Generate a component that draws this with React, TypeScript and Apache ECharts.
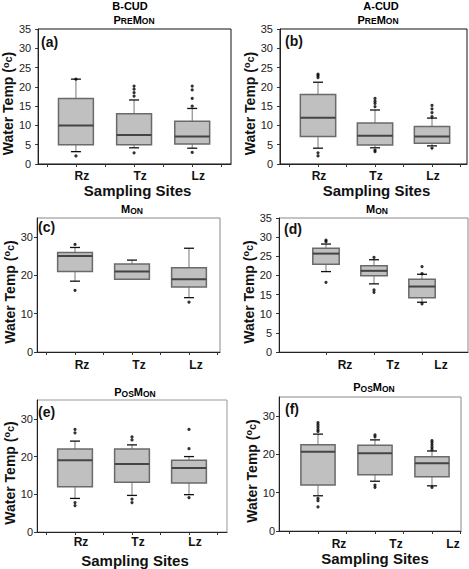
import React, { useEffect, useRef } from "react";
import * as echarts from "echarts";

const sites = ["Rz", "Tz", "Lz"];

// box statistics per site: [lower whisker, Q1, median, Q3, upper whisker]
const boxA = [[3.2, 5, 10, 17, 22], [4.2, 5, 7.5, 13, 16.6], [4.1, 5.2, 7.1, 11.1, 14.4]];
const outA = [[0, 22], [0, 2.1], [1, 20.2], [1, 19.4], [1, 18.5], [1, 17.6], [1, 2.9], [2, 20.2], [2, 19.2], [2, 17.0], [2, 15.0], [2, 3.0]];
const boxB = [[4.1, 7.1, 12, 18, 21.2], [4.2, 4.9, 7.3, 10.6, 14], [4.7, 5.4, 7.1, 9.7, 11.9]];
const outB = [[0, 23.3], [0, 22.9], [0, 22.4], [0, 2.9], [0, 2.1], [1, 17.0], [1, 16.3], [1, 15.7], [1, 14.9], [1, 3.6], [1, 3.2], [2, 15.2], [2, 14.3], [2, 13.3], [2, 12.3], [2, 4.1]];
const boxC = [[18.5, 21, 25.1, 26, 27.3], [19, 19, 21, 23, 24], [14.2, 17, 19, 22, 27.1]];
const outC = [[0, 28.1], [0, 16.1], [2, 13.0]];
const boxD = [[21, 22.9, 25.7, 27.1, 28.2], [17.8, 19.9, 21.2, 22.5, 24.1], [13, 14.2, 17.1, 19, 20.3]];
const outD = [[0, 29.2], [0, 28.8], [0, 18.2], [1, 24.7], [1, 16.2], [1, 15.6], [2, 22.3], [2, 20.5], [2, 12.6]];
const boxE = [[8.9, 12, 19, 22, 24.1], [9.7, 13.2, 18, 22, 23.1], [9.9, 13, 17, 19, 20]];
const outE = [[0, 27.2], [0, 26.3], [0, 7.8], [0, 7.0], [1, 25.2], [1, 24.4], [1, 8.7], [1, 7.8], [2, 27.2], [2, 22.1], [2, 9.1]];
const boxF = [[9.2, 12, 20.7, 22.5, 25.3], [13, 14.7, 20.3, 22.4, 23.8], [11.8, 14.2, 17.7, 19.4, 20.9]];
const outF = [[0, 28.3], [0, 27.7], [0, 27.1], [0, 26.5], [0, 26], [0, 8.5], [0, 7.9], [0, 6.3], [1, 25.1], [1, 24.6], [1, 12], [1, 11.4], [2, 23.6], [2, 23.1], [2, 22.5], [2, 21.9], [2, 21.3], [2, 11.4]];

const yTicks5 = [0, 5, 10, 15, 20, 25, 30, 35];
const yTicks10 = [0, 10, 20, 30];
const xTicksFull = [0.5, 1, 1.5, 2, 2.5, 3, 3.5];
const xTicksCenter = [1, 2, 3];
const sitePos = [1, 2, 3];

const FONT = "Liberation Sans, Arial, Helvetica, sans-serif";

const panels = [
  { box: boxA, out: outA, L: 37, R: 231, T: 29, B: 164, xmin: 0.35, xmax: 3.667, xt: xTicksFull, off: 6, yt: yTicks5, ym: 7, frame: "#111", bw: 0.6, xName: true, xGap: 17, xPad: 6, lm: 6, letter: "(a)", lx: 41, ly: 42 },
  { box: boxB, out: outB, L: 280, R: 467, T: 29, B: 164, xmin: 0.333, xmax: 3.614, xt: xTicksFull, off: 1, yt: yTicks5, ym: 7, frame: "#111", bw: 0.62, xName: true, xGap: 17, xPad: 6, lm: 6, letter: "(b)", lx: 285, ly: 41 },
  { box: boxC, out: outC, L: 37, R: 220, T: 218, B: 352, xmin: 0.333, xmax: 3.544, xt: xTicksFull, off: 7, yt: yTicks10, ym: 4, frame: "#888", bw: 0.61, xName: false, xGap: 17, xPad: 0, lm: 7, letter: "(c)", lx: 38, ly: 227 },
  { box: boxD, out: outD, L: 279, R: 468, T: 218, B: 352, xmin: 0.021, xmax: 3.958, xt: xTicksCenter, off: 19, yt: yTicks5, ym: 7, frame: "#888", bw: 0.55, xName: false, xGap: 17, xPad: 0, lm: 7, letter: "(d)", lx: 284, ly: 229 },
  { box: boxE, out: outE, L: 37, R: 227, T: 400, B: 534, xmin: 0.333, xmax: 3.667, xt: xTicksFull, off: 6, yt: yTicks10, ym: 4, frame: "#999", bw: 0.61, xName: true, xGap: 21, xPad: 6, lm: 4, letter: "(e)", lx: 38, ly: 412 },
  { box: boxF, out: outF, L: 279, R: 461, T: 397, B: 531, xmin: 0.316, xmax: 3.509, xt: xTicksFull, off: 21, yt: yTicks10, ym: 4, frame: "#888", bw: 0.6, xName: true, xGap: 18, xPad: 10, lm: 7, letter: "(f)", lx: 285, ly: 409 },
];

const titles = [
  { text: "{b|B-CUD}", x: 130, y: 6 },
  { text: "{B|P}{S|RE}{B|M}{S|ON}", x: 134, y: 19.5 },
  { text: "{b|A-CUD}", x: 381, y: 6 },
  { text: "{B|P}{S|RE}{B|M}{S|ON}", x: 378, y: 19.5 },
  { text: "{B|M}{S|ON}", x: 132, y: 209 },
  { text: "{B|M}{S|ON}", x: 377, y: 209 },
  { text: "{B|P}{S|OS}{B|M}{S|ON}", x: 135, y: 392 },
  { text: "{B|P}{S|OS}{B|M}{S|ON}", x: 374, y: 387 },
];

const titleRich = {
  b: { fontSize: 11, fontWeight: "bold", fontFamily: FONT, fill: "#000", color: "#000", lineHeight: 12 },
  B: { fontSize: 11, fontWeight: "bold", fontFamily: FONT, fill: "#000", color: "#000", lineHeight: 12 },
  S: { fontSize: 8.5, fontWeight: "bold", fontFamily: FONT, fill: "#000", color: "#000", lineHeight: 8, verticalAlign: "bottom" },
};

function buildOption() {
  const grid: any[] = [];
  const xAxis: any[] = [];
  const yAxis: any[] = [];
  const series: any[] = [];
  const graphic: any[] = [];

  panels.forEach((p, i) => {
    grid.push({
      left: p.L, top: p.T, width: p.R - p.L, height: p.B - p.T,
      show: true, borderColor: p.frame, borderWidth: 1, backgroundColor: "transparent",
    });
    xAxis.push({
      type: "value", gridIndex: i, min: p.xmin, max: p.xmax,
      axisLine: { show: true, onZero: false, lineStyle: { color: "#222", width: 1 } },
      axisTick: { show: true, customValues: p.xt, length: 3, lineStyle: { color: "#333" } },
      axisLabel: {
        customValues: sitePos, margin: p.lm, fontSize: 12, fontWeight: "bold", color: "#111", fontFamily: FONT,
        padding: [0, 0, 0, p.off * 2],
        formatter: (v: number) => sites[Math.round(v) - 1] || "",
      },
      splitLine: { show: false },
      name: p.xName ? "Sampling Sites" : "",
      nameLocation: "middle", nameGap: p.xGap,
      nameTextStyle: { fontSize: 15, fontWeight: "bold", color: "#111", fontFamily: FONT, padding: [0, 0, 0, p.xPad] },
    });
    yAxis.push({
      type: "value", gridIndex: i, min: 0, max: 35,
      axisLine: { show: true, lineStyle: { color: "#222", width: 1 } },
      axisTick: { show: true, customValues: p.yt, length: 3, lineStyle: { color: "#333" } },
      axisLabel: { customValues: p.yt, margin: p.ym, fontSize: 11, color: "#222", fontFamily: FONT },
      splitLine: { show: false },
      name: "Water Temp ({o|o}{c|c})",
      nameLocation: "middle", nameGap: 20,
      nameTextStyle: {
        fontSize: 14, fontWeight: "bold", color: "#111", fontFamily: FONT, padding: [0, 14, 0, 0],
        rich: {
          o: { fontSize: 9, fontWeight: "bold", color: "#111", fontFamily: FONT, verticalAlign: "top" },
          c: { fontSize: 11, fontWeight: "bold", color: "#111", fontFamily: FONT },
        },
      },
    });
    const bw = p.bw;
    series.push({
      type: "custom", xAxisIndex: i, yAxisIndex: i,
      encode: { x: 0, y: [1, 2, 3, 4, 5] },
      data: p.box.map((b, k) => [sitePos[k], ...b]),
      renderItem: (params: any, api: any) => {
        const x = api.value(0);
        const lo = api.coord([x, api.value(1)]);
        const q1 = api.coord([x, api.value(2)]);
        const md = api.coord([x, api.value(3)]);
        const q3 = api.coord([x, api.value(4)]);
        const hi = api.coord([x, api.value(5)]);
        const half = api.size([bw, 0])[0] / 2;
        const cap = 5;
        const cx = md[0];
        return {
          type: "group",
          children: [
            { type: "line", shape: { x1: cx, y1: lo[1], x2: cx, y2: q1[1] }, style: { stroke: "#777", lineWidth: 1 } },
            { type: "line", shape: { x1: cx, y1: q3[1], x2: cx, y2: hi[1] }, style: { stroke: "#777", lineWidth: 1 } },
            { type: "line", shape: { x1: cx - cap, y1: lo[1], x2: cx + cap, y2: lo[1] }, style: { stroke: "#111", lineWidth: 1.3 } },
            { type: "line", shape: { x1: cx - cap, y1: hi[1], x2: cx + cap, y2: hi[1] }, style: { stroke: "#111", lineWidth: 1.3 } },
            { type: "rect", shape: { x: cx - half, y: q3[1], width: half * 2, height: q1[1] - q3[1] }, style: { fill: "#c0c0c0", stroke: "#6a6a6a", lineWidth: 1.5 } },
            { type: "line", shape: { x1: cx - half, y1: md[1], x2: cx + half, y2: md[1] }, style: { stroke: "#444", lineWidth: 2 } },
          ],
        };
      },
      z: 2,
    });
    series.push({
      type: "scatter", xAxisIndex: i, yAxisIndex: i,
      data: p.out.map((o) => [sitePos[o[0]], o[1]]),
      symbol: "circle", symbolSize: 3.2,
      itemStyle: { color: "#000" },
      z: 3,
    });
    graphic.push({
      type: "text", x: p.lx, y: p.ly,
      style: {
        text: p.letter, font: `bold 14px ${FONT}`, fill: "#111",
        align: "left", verticalAlign: "middle", textAlign: "left", textVerticalAlign: "middle",
      },
    });
  });

  titles.forEach((t) => {
    graphic.push({
      type: "text", x: t.x, y: t.y,
      style: {
        text: t.text, rich: titleRich, fill: "#000", font: `bold 11px ${FONT}`,
        align: "center", verticalAlign: "middle", textAlign: "center", textVerticalAlign: "middle",
      },
    });
  });

  return {
    animation: false,
    backgroundColor: "#fff",
    textStyle: { fontFamily: FONT },
    grid, xAxis, yAxis, series, graphic,
  };
}

export default function App() {
  const ref = useRef<HTMLDivElement>(null);
  useEffect(() => {
    if (!ref.current) return;
    const chart = echarts.init(ref.current, undefined, { renderer: "svg" });
    chart.setOption(buildOption() as any);
    return () => chart.dispose();
  }, []);
  return (
    <div
      ref={ref}
      style={{ position: "fixed", left: 0, top: 0, width: 469, height: 569, background: "#fff" }}
    />
  );
}
